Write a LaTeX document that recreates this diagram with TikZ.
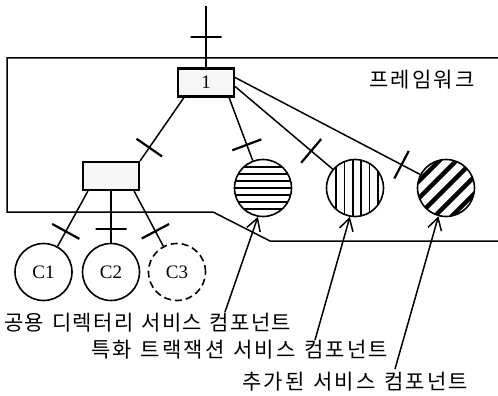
\documentclass[tikz,border=0pt]{standalone}
\usepackage{fontspec}
\setmainfont{Liberation Serif}
\newfontfamily\krA[LetterSpace=6.5,WordSpace=1.3]{Noto Sans CJK KR}
\newfontfamily\krB[LetterSpace=10,WordSpace=1.3]{Noto Sans CJK KR}
\newfontfamily\krC[LetterSpace=10,WordSpace=1.3]{Noto Sans CJK KR}
\usetikzlibrary{arrows.meta,calc}
\begin{document}
\begin{tikzpicture}[x=1pt,y=-1pt,
  ln/.style={line width=1.5pt},
  boxnode/.style={draw, line width=2.2pt, fill=gray!7, minimum width=56pt, minimum height=28pt, inner sep=0pt, font=\fontsize{19}{19}\selectfont},
  circ/.style={circle, draw, line width=1.6pt, minimum size=57pt, inner sep=0pt, font=\fontsize{19}{19}\selectfont},
  tick/.style={draw, line width=2.2pt, minimum width=0pt, minimum height=31pt, inner sep=0pt, outer sep=0pt, sloped, allow upside down},
  krA/.style={font={\krA\fontsize{21}{21}\selectfont}, inner sep=0pt},
  krB/.style={font={\krB\fontsize{21}{21}\selectfont}, inner sep=0pt},
  krC/.style={font={\krC\fontsize{21}{21}\selectfont}, inner sep=0pt},
  arr/.style={ln, -{Straight Barb[length=12pt,width=14pt,line width=1.5pt]}}
]
\useasboundingbox (0,0) rectangle (498,396);

% frame
\draw[ln] (498,58) -- (7,58) -- (7,212) -- (213,212) -- (270,241) -- (498,241);
\node[krB] (fw) at (422,80) {프레임워크};

% boxes
\node[boxnode] (b1) at (206,82.5) {1};
\node[boxnode] (b2) at (111,176) {};

% circles
\node[circ] (c1) at (43.5,272) {C1};
\node[circ] (c2) at (111,272) {C2};
\node[circ, dashed, dash pattern=on 7pt off 4pt] (c3) at (177,272) {C3};
\node[circ] (h) at (263,188) {};
\node[circ] (v) at (355,188) {};
\node[circ] (d) at (446,188) {};

% hatching
\begin{scope}
  \clip (h.center) circle[radius=28pt];
  \foreach \k in {-3,...,3}
    \draw[line width=1.6pt] ($(h.center)+(-30,\k*7)$) -- ($(h.center)+(30,\k*7)$);
\end{scope}
\begin{scope}
  \clip (v.center) circle[radius=28pt];
  \foreach \k in {0,...,5}
    \draw[line width=1.6pt] ($(v.center)+(-19+\k*8.4,-30)$) -- ($(v.center)+(-19+\k*8.4,30)$);
\end{scope}
\begin{scope}
  \clip (d.center) circle[radius=28pt];
  \foreach \s in {-2,...,2}
    \draw[line width=4.5pt] ($(d.center)+(\s*8.5-40,\s*8.5+40)$) -- ($(d.center)+(\s*8.5+40,\s*8.5-40)$);
\end{scope}

% top connector
\coordinate (top) at (206,6);
\draw[ln] (top) -- node[tick, pos=0.5]{} (b1.north);

% connectors from box 1
\draw[ln] ([xshift=7pt]b1.south west) -- node[tick, pos=0.79]{} (b2.north east);
\draw[ln] ([xshift=-6pt]b1.south east) -- node[tick, pos=0.75]{} (h);
\draw[ln] ([yshift=-4pt]b1.east) -- node[tick, pos=0.78]{} (v);
\draw[ln] ([yshift=5pt]b1.east) -- node[tick, pos=0.9]{} (d);

% connectors from box 2
\draw[ln] ([xshift=6pt]b2.south west) -- node[tick, pos=0.73]{} (c1);
\draw[ln] (b2.south) -- node[tick, pos=0.73]{} (c2.north);
\draw[ln] ([xshift=-6pt]b2.south east) -- node[tick, pos=0.73]{} (c3);

% labels
\node[krA, anchor=west] (t1) at (4,323) {공용 디렉터리 서비스 컴포넌트};
\node[krB, anchor=west] (t2) at (91,350) {특화 트랙잭션 서비스 컴포넌트};
\node[krC, anchor=west] (t3) at (242,382) {추가된 서비스 컴포넌트};

\coordinate (a1) at (225,312);
\coordinate (a2) at (315,340);
\coordinate (a3) at (395,369);
\draw[arr] (a1) -- (h.-100);
\draw[arr] (a2) -- (v.-100);
\draw[arr] (a3) -- (d.-105);
\end{tikzpicture}
\end{document}
